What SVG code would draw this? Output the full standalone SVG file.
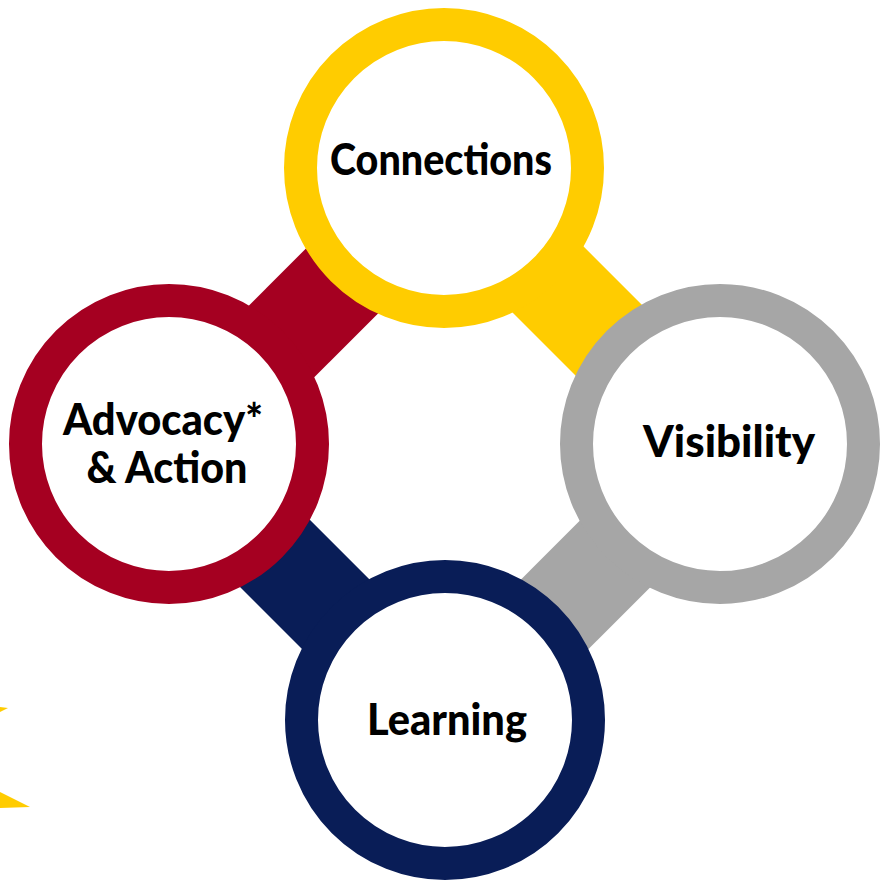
<svg xmlns="http://www.w3.org/2000/svg" width="890" height="882" viewBox="0 0 890 882">
<style>
.ring{fill:#ffffff;stroke-width:33}
.bar{stroke-width:97;stroke-linecap:butt;fill:none}
.lbl{font-family:Lato,"DejaVu Sans",sans-serif;font-weight:900;font-size:44px;fill:#000000;text-anchor:middle}
</style>
<rect width="890" height="882" fill="#ffffff"/>
<g id="decor">
<polygon points="0,707 8,708 0,712" fill="#FFCC00"/>
<polygon points="0,792 30,807 0,808" fill="#FFCC00"/>
</g>
<g id="connectors">
<line class="bar" x1="175" y1="448" x2="450" y2="173" stroke="#A50021"/>
<line class="bar" x1="440" y1="171.5" x2="720" y2="451.5" stroke="#FFCC00"/>
<line class="bar" x1="170" y1="448.5" x2="440" y2="718.5" stroke="#091D57"/>
<line class="bar" x1="720" y1="449" x2="445" y2="724" stroke="#A6A6A6"/>
</g>
<g id="connections">
<circle class="ring" cx="444" cy="168" r="143.5" stroke="#FFCC00"/>
<text class="lbl" x="441" y="175" textLength="222" lengthAdjust="spacingAndGlyphs">Connections</text>
</g>
<g id="visibility">
<circle class="ring" cx="720" cy="444" r="143.5" stroke="#A6A6A6"/>
<text class="lbl" x="729" y="457" textLength="172" lengthAdjust="spacingAndGlyphs">Visibility</text>
</g>
<g id="advocacy">
<circle class="ring" cx="169" cy="444" r="143.5" stroke="#A50021"/>
<text class="lbl" x="163" y="435" textLength="200" lengthAdjust="spacingAndGlyphs">Advocacy*</text>
<text class="lbl" x="167" y="483" textLength="161" lengthAdjust="spacingAndGlyphs">&amp; Action</text>
</g>
<g id="learning">
<circle class="ring" cx="445" cy="720" r="143.5" stroke="#091D57"/>
<text class="lbl" x="447" y="735" textLength="160" lengthAdjust="spacingAndGlyphs">Learning</text>
</g>
</svg>
